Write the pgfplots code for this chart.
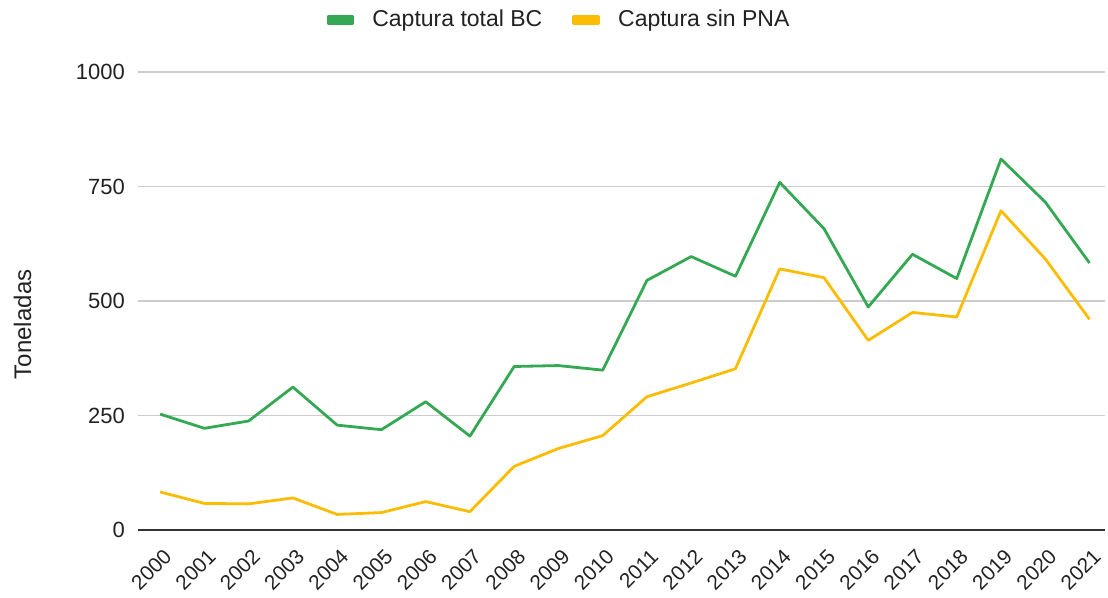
\documentclass[border=0pt]{standalone}
\usepackage{pgfplots}
\pgfplotsset{compat=1.18}
\usepackage{fontspec}
\setmainfont{Liberation Sans}
\definecolor{gGreen}{HTML}{34A853}
\definecolor{gYellow}{HTML}{FBBC04}
\definecolor{gridc}{HTML}{CCCCCC}
\definecolor{txt}{HTML}{222222}
\begin{document}
\begin{tikzpicture}
\useasboundingbox (-69pt,-34pt) rectangle (485pt,265pt);
\begin{axis}[
  scale only axis,
  width=483.5pt, height=229pt,
  xmin=-0.5, xmax=21.35,
  ymin=0, ymax=1000,
  ytick={0,250,500,750,1000},
  xtick={0,...,21},
  xticklabels={2000,2001,2002,2003,2004,2005,2006,2007,2008,2009,2010,2011,2012,2013,2014,2015,2016,2017,2018,2019,2020,2021},
  xticklabel shift=0pt,
  x tick label style={xshift=3.9pt, yshift=-11.5pt, rotate=45, anchor=east, inner sep=0pt, font=\fontsize{10.4}{12}\selectfont, text=txt},
  y tick label style={font=\fontsize{11}{13}\selectfont, text=txt},
  /pgf/number format/assume math mode=true,
  /pgf/number format/1000 sep={},
  ymajorgrids, grid style={gridc, line width=0.6pt},
  axis line style={draw=none},
  major tick length=0pt,
  yticklabel shift=3pt,
  ylabel={Toneladas},
  ylabel style={at={(axis description cs:-0.1194,0.449)}, anchor=center, font=\fontsize{12}{14}\selectfont, text=txt},
  legend style={at={(axis description cs:0.4364,1.1135)}, anchor=center, draw=none, legend columns=2, font=\fontsize{11.5}{13}\selectfont, text=txt,
    /tikz/every even column/.append style={column sep=13pt},
    /tikz/every odd column/.append style={column sep=7pt}},
  legend image code/.code={\fill[#1] (0pt,-1.6pt) rectangle (12.5pt,1.6pt);},
  clip=false,
]
\addplot[gGreen, line width=1.4pt, line join=round] coordinates {
(0,253) (1,222) (2,238) (3,312) (4,229) (5,219) (6,280) (7,205) (8,357) (9,359) (10,349)
(11,545) (12,597) (13,554) (14,759) (15,658) (16,487) (17,602) (18,549) (19,810) (20,716) (21,583)};
\addlegendentry{Captura total BC}
\addplot[gYellow, line width=1.4pt, line join=round] coordinates {
(0,83) (1,58) (2,57) (3,70) (4,34) (5,38) (6,62) (7,40) (8,139) (9,178) (10,206)
(11,291) (12,321) (13,352) (14,570) (15,551) (16,414) (17,475) (18,465) (19,697) (20,592) (21,460)};
\addlegendentry{Captura sin PNA}
\draw[color=black!80, line width=0.8pt] (axis cs:-0.5,0) -- (axis cs:21.35,0);
\end{axis}
\end{tikzpicture}
\end{document}
